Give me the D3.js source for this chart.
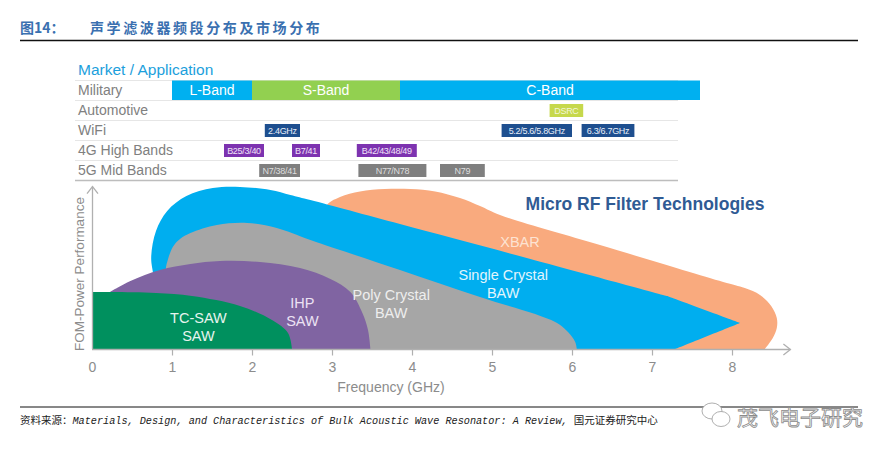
<!DOCTYPE html>
<html><head><meta charset="utf-8">
<script src="https://cdn.jsdelivr.net/npm/d3@7"></script>
<style>
body{margin:0;background:#fff}
svg{display:block}
text{font-family:"Liberation Sans",Arial,sans-serif}
</style>
</head><body>
<svg id="c" width="894" height="456"></svg>
<script>
// ---------------- DATA ----------------
const figureNo = "图14：";
const figureTitle = "声学滤波器频段分布及市场分布";
const marketTitle = "Market / Application";
const rowNames = ["Military","Automotive","WiFi","4G High Bands","5G Mid Bands"];

const bandLabels = ["L-Band","S-Band","C-Band","DSRC","2.4GHz","5.2/5.6/5.8GHz","6.3/6.7GHz","B25/3/40","B7/41","B42/43/48/49","N7/38/41","N77/N78","N79"];
const bandRows   = ["Military","Military","Military","Automotive","WiFi","WiFi","WiFi","4G High Bands","4G High Bands","4G High Bands","5G Mid Bands","5G Mid Bands","5G Mid Bands"];
const bandFrom   = [1.0, 2.0, 3.85, 5.72, 2.16, 5.12, 6.12, 1.65, 2.5, 3.31, 2.09, 3.33, 4.35];
const bandTo     = [2.0, 3.85, 7.6, 6.14, 2.6, 6.0, 6.78, 2.15, 2.85, 4.06, 2.6, 4.18, 4.91];

const xTickValues = [0,1,2,3,4,5,6,7,8];
const xTickLabels = ["0","1","2","3","4","5","6","7","8"];
const xAxisTitle = "Frequency (GHz)";
const yAxisTitle = "FOM-Power Performance";
const chartTitle = "Micro RF Filter Technologies";

// technology outlines: [frequency GHz, performance (0-10)], third value 1 = sharp corner
const techNames = ["XBAR","Single Crystal BAW","Poly Crystal BAW","IHP SAW","TC-SAW SAW"];
const xbarOutline = [[2.9,0,1],[2.91,8.8],[3.1,9.5],[3.35,9.85],[3.66,10.0],[3.98,10.0],[4.29,9.85],[4.6,9.44],[4.85,8.94],[5.1,8.38],[6.35,6.5],[7.89,4.19],[8.16,3.81],[8.35,3.38],[8.49,2.69],[8.56,1.94],[8.56,1.31],[8.51,0.69],[8.41,0,1]];
const singleCrystalOutline = [[0.86,0,1],[0.77,4.5],[0.74,5.75],[0.8,7.38],[0.94,8.63],[1.18,9.56],[1.51,10.06],[1.85,10.13],[2.23,9.94],[2.48,9.63],[2.73,9.31],[3.85,7.81],[5.48,5.63],[7.19,3.31,1],[8.1,1.63,1],[7.29,0,1]];
const polyCrystalOutline = [[0.9,0,1],[0.92,4.9],[0.94,5.44],[1.01,6.38],[1.1,6.88],[1.23,7.25],[1.56,7.75],[1.94,7.88],[2.31,7.56],[2.73,6.81],[3.85,4.94],[4.85,3.25],[5.79,1.69],[5.95,1.06],[6.04,0.44],[6.06,0,1]];
const ihpSawOutline = [[0.15,0,1],[0.2,3.5,1],[0.48,4.25],[0.85,4.94],[1.23,5.31],[1.6,5.5],[2.1,5.44],[2.6,5.06],[2.98,4.38],[3.23,3.56],[3.38,2.25],[3.45,1.19],[3.48,0,1]];
const tcSawOutline = [[0,0,1],[0,3.56,1],[0.25,3.56],[0.8,3.5],[1.25,3.31],[1.85,2.69],[2.25,1.81],[2.45,1.0],[2.5,0,1]];
const techLabelLines = [["XBAR"],["Single Crystal","BAW"],["Poly Crystal","BAW"],["IHP","SAW"],["TC-SAW","SAW"]];

const sourceLead = "资料来源：";
const sourceText = "Materials, Design, and Characteristics of Bulk Acoustic Wave Resonator: A Review, ";
const sourceTail = "国元证券研究中心";
const watermark = "茂飞电子研究";

// ---------------- STYLE / LAYOUT ----------------
const techColors = ["#f9aa7e","#00aeef","#a6a6a6","#8064a2","#00905e"];
const techLabelColors = ["#fde3d2","#e2f5fd","#eeeeee","#ece2f4","#e6f4ee"];
const techLabelAt = [[5.35,6.69],[5.14,4.06],[3.74,2.81],[2.63,2.34],[1.33,1.38]];
const rowColors = {"Military":"#00b0f0","Automotive":"#c6d84c","WiFi":"#1e4f8f","4G High Bands":"#7d33b0","5G Mid Bands":"#7f7f7f"};
const labelColorOverride = {"S-Band":"#92d050"};
const boxTextColors = {"Military":"#ffffff","Automotive":"#f2f6d8","WiFi":"#e8eef8","4G High Bands":"#f1e4f8","5G Mid Bands":"#dedede"};

const svg = d3.select("#c");
const x = d3.scaleLinear().domain([0,8]).range([92,732]);
const y = d3.scaleLinear().domain([0,10]).range([349,189]);
const rowScale = d3.scaleBand().domain(rowNames).range([80,180]);

// ---- header ----
svg.append("text").attr("x",20).attr("y",33).text(figureNo)
  .style("font-family","'Noto Sans CJK SC',sans-serif").style("font-weight","700")
  .style("font-size","14px").attr("fill","#3a70b0");
svg.append("text").attr("x",90).attr("y",33).text(figureTitle)
  .style("font-family","'Noto Sans CJK SC',sans-serif").style("font-weight","700")
  .style("font-size","14px").style("letter-spacing","2.6px").attr("fill","#3a70b0");
svg.append("line").attr("x1",20).attr("x2",858).attr("y1",40.5).attr("y2",40.5)
  .attr("stroke","#111").attr("stroke-width",1.3);

// ---- market table ----
svg.append("text").attr("x",78).attr("y",75).text(marketTitle)
  .style("font-size","15.5px").attr("fill","#1ca0dc");

const sepYs = rowNames.map(r=>rowScale(r)).concat([rowScale.range()[1]]);
svg.selectAll("line.sep").data(sepYs).join("line").attr("class","sep")
  .attr("x1",75).attr("x2",678).attr("y1",d=>d+0.5).attr("y2",d=>d+0.5)
  .attr("stroke",(d,i)=> i===sepYs.length-1 ? "#bdbdbd" : "#e6e6e6")
  .attr("stroke-width",(d,i)=> i===sepYs.length-1 ? 1.6 : 1);

svg.selectAll("text.row").data(rowNames).join("text").attr("class","row")
  .attr("x",78).attr("y",d=>rowScale(d)+rowScale.bandwidth()/2).attr("dy","0.36em")
  .text(d=>d).style("font-size","14px").attr("fill","#808080");

const bands = bandLabels.map((l,i)=>({label:l,row:bandRows[i],from:bandFrom[i],to:bandTo[i]}));
const bandG = svg.append("g");
bands.forEach(b=>{
  const full = b.row==="Military";
  const h = full ? rowScale.bandwidth()-0.5 : 13;
  const cy = rowScale(b.row)+rowScale.bandwidth()/2;
  const y0 = full ? rowScale(b.row)+0.5 : cy-h/2+0.5;
  bandG.append("rect").attr("x",x(b.from)).attr("y",y0)
    .attr("width",x(b.to)-x(b.from)).attr("height",h)
    .attr("fill",labelColorOverride[b.label]||rowColors[b.row]);
  bandG.append("text").attr("x",(x(b.from)+x(b.to))/2).attr("y",y0+h/2).attr("dy","0.36em")
    .attr("text-anchor","middle").text(b.label)
    .style("font-size", full ? "14px" : "9px")
    .style("letter-spacing", full ? "0px" : "-0.3px")
    .attr("fill", boxTextColors[b.row]);
});

// ---- technology shapes ----
const outlines = [xbarOutline,singleCrystalOutline,polyCrystalOutline,ihpSawOutline,tcSawOutline];
function expand(pts){const o=[];pts.forEach(p=>{o.push(p); if(p[2]) o.push(p);});return o;}
const shapeLine = d3.line().x(d=>x(d[0])).y(d=>y(d[1])).curve(d3.curveCatmullRomClosed.alpha(0.5));
svg.append("g").selectAll("path").data(outlines).join("path")
  .attr("d",d=>shapeLine(expand(d))).attr("fill",(d,i)=>techColors[i]);

techLabelLines.forEach((lines,i)=>{
  const [f,p] = techLabelAt[i];
  const t = svg.append("text").attr("text-anchor","middle").attr("fill",techLabelColors[i])
    .style("font-size","14.5px");
  const n = lines.length;
  lines.forEach((ln,j)=>{
    t.append("tspan").attr("x",x(f)).attr("y",y(p)+(j-(n-1)/2)*18).attr("dy","0.36em").text(ln);
  });
});

svg.append("text").attr("x",645).attr("y",204).attr("dy","0.36em").attr("text-anchor","middle")
  .text(chartTitle).style("font-size","17.5px").style("font-weight","700").attr("fill","#2f5b94");

// ---- axes ----
const axisColor = "#b0b0b0";
const xEnd = 8.73, yEnd = 10.15;
svg.append("line").attr("x1",x(0)).attr("x2",x(xEnd)).attr("y1",y(0)+0.5).attr("y2",y(0)+0.5)
  .attr("stroke",axisColor).attr("stroke-width",1.3);
svg.append("path").attr("d",`M${x(xEnd)-7},${y(0)-5}L${x(xEnd)},${y(0)+0.5}L${x(xEnd)-7},${y(0)+6}`)
  .attr("fill","none").attr("stroke",axisColor).attr("stroke-width",1.3);
svg.append("line").attr("x1",x(0)+0.5).attr("x2",x(0)+0.5).attr("y1",y(0)).attr("y2",y(yEnd))
  .attr("stroke",axisColor).attr("stroke-width",1.3);
svg.append("path").attr("d",`M${x(0)-5},${y(yEnd)+7}L${x(0)+0.5},${y(yEnd)}L${x(0)+6},${y(yEnd)+7}`)
  .attr("fill","none").attr("stroke",axisColor).attr("stroke-width",1.3);

const xAxis = d3.axisBottom(x).tickValues(xTickValues).tickFormat((d,i)=>xTickLabels[i])
  .tickSize(6).tickPadding(7);
const gx = svg.append("g").attr("transform",`translate(0,${y(0)+0.5})`).call(xAxis);
gx.select(".domain").remove();
gx.selectAll(".tick line").attr("stroke",axisColor).attr("stroke-width",1.2)
  .attr("y2",(d)=> d===0 ? 0 : 6);
gx.selectAll(".tick text").attr("fill","#8c8c8c")
  .style("font-size","14px").style("font-family","'Liberation Sans',Arial,sans-serif");

svg.append("text").attr("x",391).attr("y",387).attr("dy","0.36em").attr("text-anchor","middle")
  .text(xAxisTitle).style("font-size","14px").attr("fill","#8c8c8c");
svg.append("text").attr("transform","translate(79,274) rotate(-90)").attr("dy","0.36em")
  .attr("text-anchor","middle").text(yAxisTitle).style("font-size","13.5px").attr("fill","#8c8c8c");

// ---- footer ----
svg.append("line").attr("x1",20).attr("x2",858).attr("y1",407).attr("y2",407)
  .attr("stroke","#111").attr("stroke-width",1);
const src = svg.append("text").attr("x",20).attr("y",424).style("font-size","10.5px").attr("fill","#222");
src.append("tspan").text(sourceLead).style("font-family","'Noto Sans CJK SC',sans-serif");
src.append("tspan").text(sourceText).style("font-family","'Liberation Mono','DejaVu Sans Mono',monospace")
  .style("font-style","italic").style("font-size","10.2px");
src.append("tspan").text(sourceTail).style("font-family","'Noto Sans CJK SC',sans-serif");

// watermark
const wm = svg.append("g").attr("fill","#fff").attr("stroke","#9a9a9a").attr("stroke-width",0.8);
wm.append("ellipse").attr("cx",712).attr("cy",411).attr("rx",10).attr("ry",8);
wm.append("ellipse").attr("cx",721).attr("cy",419).attr("rx",9).attr("ry",7.5);
svg.append("text").attr("x",737).attr("y",417).attr("dy","0.36em").text(watermark)
  .style("font-family","'Noto Sans CJK SC',sans-serif").style("font-size","21px")
  .attr("fill","#ffffff").attr("stroke","#8a8a8a").attr("stroke-width",0.8);
</script>
</body></html>
